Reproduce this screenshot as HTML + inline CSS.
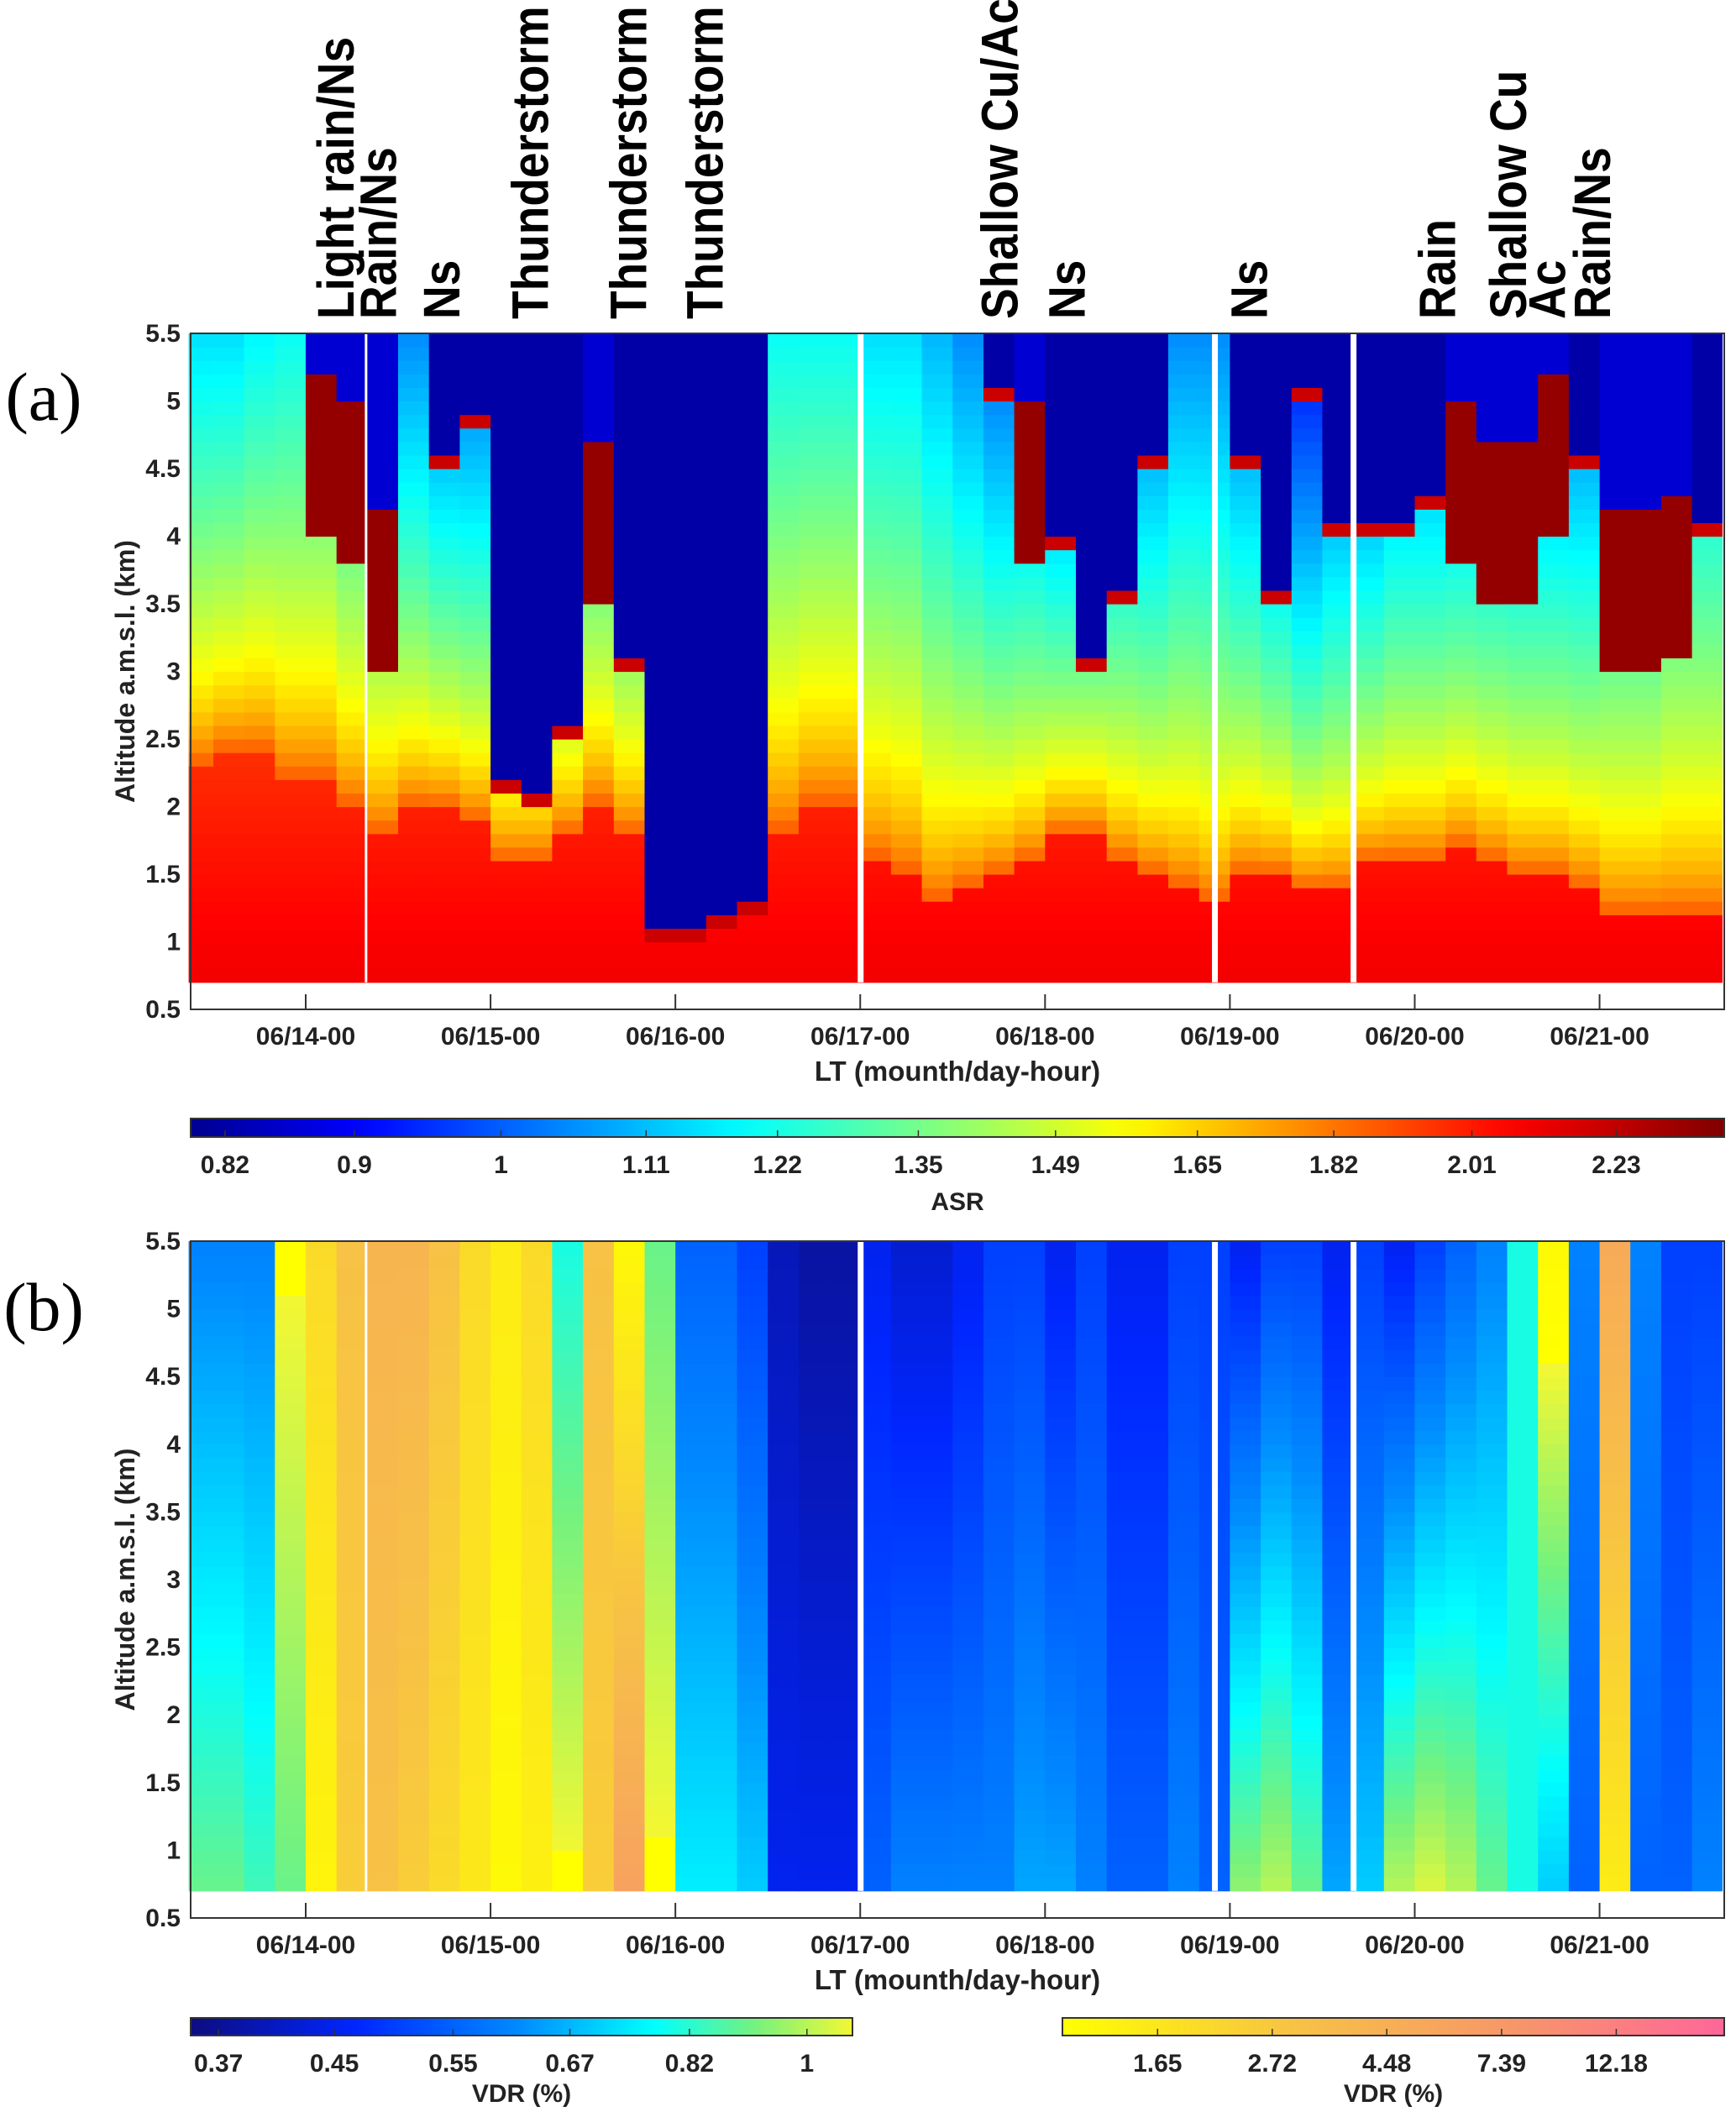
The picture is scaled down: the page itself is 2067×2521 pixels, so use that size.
<!DOCTYPE html>
<html><head><meta charset="utf-8">
<style>
html,body{margin:0;padding:0;background:#fff;}
svg{display:block;font-family:"Liberation Sans",Arial,sans-serif;}
</style></head>
<body>
<svg id="fig" width="2067" height="2521" viewBox="0 0 2067 2521" xmlns="http://www.w3.org/2000/svg">
<g id="labels"></g>
<text x="52" y="500" font-family="Liberation Serif,serif" font-size="82" text-anchor="middle">(a)</text>
<text x="52" y="1584" font-family="Liberation Serif,serif" font-size="82" text-anchor="middle">(b)</text>
<g id="pa"></g>
<g id="pb"></g>
<g id="axes"></g>
<g id="cbars"></g>
</svg>
<script>
// ---- data ----
const binStart = [-16,-12,-8,-4,0,4,8,12,16,20,24,28,32,36,40,44,48,52,56,60,64,68,72,76,80,84,88,92,96,100,104,108,112,116,120,124,128,132,136,140,144,148,152,156,160,164,168,172,176,180];
const pblTop = [2.3,2.4,2.4,2.2, 2.2,2.0,1.8,2.0,2.0,1.9, 1.6,1.6,1.8,2.0,1.8,1.5, 1.2,1.2,1.5,1.8,2.0,2.0, 1.6,1.5,1.3,1.4,1.5,1.6,1.8,1.8,1.6,1.5,1.4,1.3, 1.5,1.5,1.4,1.4, 1.6,1.6,1.6,1.7,1.6,1.5,1.5,1.4,1.2,1.2,1.2,1.2];
const cloudBase = [0,0,0,0, 4.0,3.8,3.0,0,4.5,4.8, 2.1,2.0,2.5,3.5,3.0,1.0, 1.0,1.1,1.2,0,0,0, 0,0,0,0,5.0,3.8,3.9,3.0,3.5,4.5,0,0, 4.5,3.5,5.0,4.0, 4.0,4.0,4.2,3.8,3.5,3.5,4.0,4.5,3.0,3.0,3.1,4.0];
const cloudKind = [0,0,0,0, 2,2,2,0,1,1, 1,1,1,2,1,1, 1,1,1,0,0,0, 0,0,0,0,1,2,1,1,1,1,0,0, 1,1,1,1, 1,1,1,2,2,2,2,1,2,2,2,1];
const topASR = [1.15,1.15,1.18,1.2, 1.2,1.15,1.1,1.05,1.0,1.0, 1.0,1.0,1.0,1.1,1.05,1.1, 1.1,1.1,1.15,1.2,1.2,1.2, 1.15,1.15,1.1,1.05,1.0,1.0,0.95,0.95,1.0,1.0,1.05,1.05, 1.0,0.95,0.9,0.95, 0.95,1.0,1.0,1.0,1.0,1.0,1.0,1.0,1.05,1.05,1.1,1.1];
const vdrLow = [0.9,0.9,0.85,0.9, 1.3,2.5,3,2.5,2,1.6, 1.2,1.4,1.1,2.5,6,1.1, 0.75,0.75,0.7,0.45,0.45,0.45, 0.55,0.6,0.6,0.6,0.6,0.65,0.65,0.6,0.55,0.55,0.6,0.55, 0.95,1.0,0.9,0.65, 0.7,1.0,1.05,1.0,0.9,0.8,0.7,0.55,1.5,0.55,0.55,0.6];
const vdrTop = [0.6,0.6,0.6,1.1, 2,3,4,4,3,2, 1.5,2,0.8,3,1.2,0.9, 0.55,0.55,0.5,0.4,0.38,0.38, 0.45,0.42,0.42,0.45,0.5,0.5,0.45,0.5,0.45,0.45,0.5,0.5, 0.45,0.5,0.5,0.45, 0.5,0.45,0.5,0.55,0.6,0.8,1.2,0.6,5,0.6,0.5,0.5];
const gapTimes = [8, 72, 118, 136];
const dayLabels = ["06/14-00","06/15-00","06/16-00","06/17-00","06/18-00","06/19-00","06/20-00","06/21-00"];
const altTicks = [0.5,1,1.5,2,2.5,3,3.5,4,4.5,5,5.5];
const asrTicks = [0.82,0.9,1,1.11,1.22,1.35,1.49,1.65,1.82,2.01,2.23];
const vdrLowTicks = [0.37,0.45,0.55,0.67,0.82,1];
const vdrHighTicks = [1.65,2.72,4.48,7.39,12.18];
const cloudLabels = ["Light rain/Ns","Rain/Ns","Ns","Thunderstorm","Thunderstorm","Thunderstorm","Shallow Cu/Ac","Ns","Ns","Rain","Shallow Cu","Ac","Rain/Ns"];
const cloudLabelTimes = [5.8,11.3,19.5,31,43.8,53.7,92,100.7,124.4,148.8,158,163.1,168.9];

// ---- layout ----
const NS="http://www.w3.org/2000/svg";
const X0=227, X1=2053, TMIN=-15.2, TMAX=183.9;
const X=t=>364+t*9.17;
const PA={top:397,bot:1202}, PB={top:1478,bot:2284};
const Y=(p,a)=>p.bot-(a-0.5)*(p.bot-p.top)/5;
function el(tag,attrs,parent){const e=document.createElementNS(NS,tag);for(const k in attrs)e.setAttribute(k,attrs[k]);parent.appendChild(e);return e;}
function lerpStops(stops,f){f=Math.max(0,Math.min(1,f));for(let i=1;i<stops.length;i++){if(f<=stops[i][0]){const a=stops[i-1],b=stops[i];const u=(f-a[0])/(b[0]-a[0]||1);return 'rgb('+[1,2,3].map(k=>Math.round(255*(a[k]+(b[k]-a[k])*u))).join(',')+')';}}const s=stops[stops.length-1];return 'rgb('+Math.round(s[1]*255)+','+Math.round(s[2]*255)+','+Math.round(s[3]*255)+')';}
const JET=[[0,0,0,0.56],[0.11,0,0,1],[0.36,0,1,1],[0.61,1,1,0],[0.86,1,0,0],[1,0.5,0,0]];
const PAR=[[0,0.05,0.05,0.5],[0.25,0.0,0.15,1],[0.5,0.0,0.55,1],[0.7,0.0,1,1],[0.85,0.45,0.95,0.5],[1,0.95,0.97,0.2]];
const WARM=[[0,1,1,0],[0.35,0.97,0.76,0.27],[0.7,0.97,0.58,0.42],[1,1,0.4,0.6]];
const asrL0=Math.log(0.80), asrL1=Math.log(2.41);
const asrColor=v=>lerpStops(JET,(Math.log(v)-asrL0)/(asrL1-asrL0));
const vL0=Math.log(0.353), vL1=Math.log(1.08), wL0=Math.log(1.09), wL1=Math.log(19.5);
const vdrColor=v=>v<=1.08?lerpStops(PAR,(Math.log(v)-vL0)/(vL1-vL0)):lerpStops(WARM,(Math.log(v)-wL0)/(wL1-wL0));

function asrAt(i,a){
  const cb=cloudBase[i],k=cloudKind[i],p=pblTop[i];
  if(cb>0&&a>=cb){ if(k===2) return a<cb+1.2?2.35:0.86; return a<cb+0.1?2.2:0.82; }
  if(a<p) return 2.1-0.08*(a-0.7);
  const u=Math.min(1,(a-p)/Math.max(0.1,5.5-p));
  return Math.exp(Math.log(1.92)+(Math.log(topASR[i])-Math.log(1.92))*Math.pow(u,0.6));
}
function vdrAt(i,a){const u=(a-0.7)/4.8;return Math.exp(Math.log(vdrLow[i])+(Math.log(vdrTop[i])-Math.log(vdrLow[i]))*u);}

function drawPanel(g,P,fn,color,name){
  const dA=0.1;
  for(let i=0;i<binStart.length;i++){
    const t0=Math.max(binStart[i],TMIN), t1=Math.min(binStart[i]+4,TMAX);
    if(t1<=t0)continue;
    const x0=X(t0), x1=X(t1);
    for(let a=0.7;a<5.5-1e-6;a+=dA){
      const r=el('rect',{x:x0.toFixed(1),y:Y(P,a+dA).toFixed(1),width:(x1-x0+0.6).toFixed(1),height:(Y(P,a)-Y(P,a+dA)+0.6).toFixed(1),fill:color(fn(i,a+dA/2))},g);
      
      
    }
  }
  gapTimes.forEach(gt=>{
    const r=el('rect',{x:X(gt)-3,y:P.top,width:gt===8?3:7,height:Y(P,0.7)-P.top,fill:'#fff'},g);
    
    
  });
}
drawPanel(document.getElementById('pa'),PA,asrAt,asrColor,'asr');
drawPanel(document.getElementById('pb'),PB,vdrAt,vdrColor,'vdr');

// ---- axes ----
const ax=document.getElementById('axes');
[PA,PB].forEach((P,pi)=>{
  const f=el('rect',{x:X0,y:P.top,width:X1-X0,height:P.bot-P.top,fill:'none',stroke:'#333','stroke-width':2},ax);
  
  
  altTicks.forEach(v=>{
    const tt=el('text',{x:X0-12,y:Y(P,v)+10,'font-size':30,'font-weight':'bold','text-anchor':'end',fill:'#222'},ax);
    tt.textContent=v;
    
    
  });
  dayLabels.forEach((d,k)=>{
    const x=X(k*24);
    el('line',{x1:x,x2:x,y1:P.bot,y2:P.bot-18,stroke:'#333','stroke-width':2},ax);
    const tt=el('text',{x:x,y:P.bot+42,'font-size':30,'font-weight':'bold','text-anchor':'middle',fill:'#222'},ax);
    tt.textContent=d;
    
    
  });
  const xt=el('text',{x:(X0+X1)/2,y:P.bot+85,'font-size':33,'font-weight':'bold','text-anchor':'middle',fill:'#222'},ax);
  xt.textContent='LT (mounth/day-hour)';
  
  
  const yc=(P.top+P.bot)/2;
  const yt=el('text',{x:0,y:0,'font-size':32,'font-weight':'bold','text-anchor':'middle',fill:'#222',transform:'translate(160,'+yc+') rotate(-90)'},ax);
  yt.textContent='Altitude a.m.s.l. (km)';
  
  
});

// ---- cloud labels ----
const lg=document.getElementById('labels');
cloudLabels.forEach((s,k)=>{
  const x=X(cloudLabelTimes[k])+4;
  const t=el('text',{x:0,y:0,'font-size':55,'font-weight':'bold',fill:'#000',transform:'translate('+x+',380) rotate(-90) scale(1,1.12)'},lg);
  t.textContent=s;
  
  
});

// ---- colorbars ----
const cb=document.getElementById('cbars');
function colorbar(x0,x1,y0,y1,l0,l1,color,ticks,title,ty,id){
  const defs=el('defs',{},cb);
  const gr=el('linearGradient',{id:id,x1:0,x2:1,y1:0,y2:0},defs);
  for(let k=0;k<=40;k++){const f=k/40;el('stop',{offset:f,'stop-color':color(Math.exp(l0+(l1-l0)*f))},gr);}
  const r=el('rect',{x:x0,y:y0,width:x1-x0,height:y1-y0,fill:'url(#'+id+')',stroke:'#333','stroke-width':2},cb);
  
  
  ticks.forEach(v=>{
    const x=x0+(Math.log(v)-l0)/(l1-l0)*(x1-x0);
    el('line',{x1:x,x2:x,y1:y1,y2:y1-8,stroke:'#333','stroke-width':1.5},cb);
    const t=el('text',{x:x,y:y1+43,'font-size':30,'font-weight':'bold','text-anchor':'middle',fill:'#222'},cb);
    t.textContent=v;
    
    
  });
  const tt=el('text',{x:(x0+x1)/2,y:ty,'font-size':30,'font-weight':'bold','text-anchor':'middle',fill:'#222'},cb);
  tt.textContent=title;
  
  
}
colorbar(227,2053,1332,1354,asrL0,asrL1,asrColor,asrTicks,'ASR',1441,'asr-colorbar');
colorbar(227,1015,2403,2424,vL0,vL1,vdrColor,vdrLowTicks,'VDR (%)',2503,'vdr-low-colorbar');
colorbar(1265,2053,2403,2424,wL0,wL1,vdrColor,vdrHighTicks,'VDR (%)',2503,'vdr-high-colorbar');
</script>
</body></html>
